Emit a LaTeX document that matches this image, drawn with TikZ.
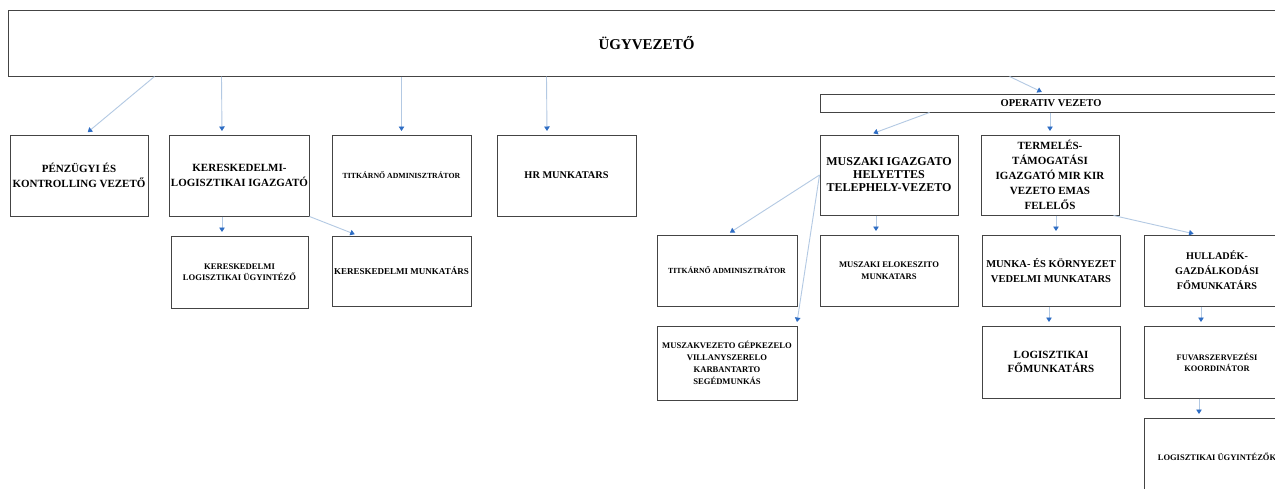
\documentclass[tikz,border=0pt]{standalone}
\usepackage{fontspec}
\setmainfont{Liberation Serif}
\usetikzlibrary{arrows.meta}
\definecolor{lineblue}{HTML}{B3C9E3}
\definecolor{tipblue}{HTML}{2E6DC4}
\definecolor{boxline}{HTML}{444444}
\newcommand{\fsz}[2]{\fontsize{#1}{#2}\selectfont}
\tikzset{
  orgbox/.style={draw=boxline, line width=1pt, fill=white, inner sep=1pt, align=center},
  conn/.style={draw=lineblue, line width=0.9pt,
    -{Triangle[width=5.5pt,length=4.5pt,color=tipblue]}, shorten >=3.5pt},
}
\begin{document}
\begin{tikzpicture}[x=1pt,y=-1pt]
\useasboundingbox (0,0) rectangle (1275,488);
\clip (0,0) rectangle (1275,488);
\fill[white] (0,0) rectangle (1275,488);

% top
\node[orgbox, minimum width=1277pt, minimum height=66pt, font={\bfseries\fsz{15}{18}}] (top) at (646.5,43) {ÜGYVEZETŐ};
\node[orgbox, minimum width=462pt, minimum height=18pt, font={\bfseries\fsz{10.5}{12}}] (oper) at (1051,103) {OPERATIV VEZETO};

% row 1
\node[orgbox, minimum width=138pt, minimum height=81pt, font={\bfseries\fsz{11}{15}}] (penz) at (79,175.5) {PÉNZÜGYI ÉS\\KONTROLLING VEZETŐ};
\node[orgbox, minimum width=137pt, minimum height=81pt, font={\bfseries\fsz{11}{15}}] (kli) at (239.5,175.5) {KERESKEDELMI-\\LOGISZTIKAI IGAZGATÓ};
\node[orgbox, minimum width=139pt, minimum height=81pt, font={\bfseries\fsz{7.8}{10}}] (titk1) at (401.5,175.5) {TITKÁRNŐ ADMINISZTRÁTOR};
\node[orgbox, minimum width=139pt, minimum height=81pt, font={\bfseries\fsz{10.3}{12}}] (hr) at (566.5,175.5) {HR MUNKATARS};
\node[orgbox, minimum width=138pt, minimum height=80pt, font={\bfseries\fsz{12}{13}}] (musz) at (889,175) {MUSZAKI IGAZGATO\\HELYETTES\\TELEPHELY-VEZETO};
\node[orgbox, minimum width=138pt, minimum height=80pt, font={\bfseries\fsz{11}{15}}] (term) at (1050,175) {TERMELÉS-\\TÁMOGATÁSI\\IGAZGATÓ MIR KIR\\VEZETO EMAS\\FELELŐS};

% row 2
\node[orgbox, minimum width=137pt, minimum height=72pt, font={\bfseries\fsz{8.6}{11}}] (klu) at (239.5,272) {KERESKEDELMI\\LOGISZTIKAI ÜGYINTÉZŐ};
\node[orgbox, minimum width=139pt, minimum height=70pt, font={\bfseries\fsz{9}{11}}] (kmt) at (401.5,271) {KERESKEDELMI MUNKATÁRS};
\node[orgbox, minimum width=140pt, minimum height=71pt, font={\bfseries\fsz{7.8}{10}}] (titk2) at (727,270.5) {TITKÁRNŐ ADMINISZTRÁTOR};
\node[orgbox, minimum width=138pt, minimum height=71pt, font={\bfseries\fsz{8.6}{12.5}}] (mele) at (889,270.5) {MUSZAKI ELOKESZITO\\MUNKATARS};
\node[orgbox, minimum width=138pt, minimum height=71pt, font={\bfseries\fsz{10.5}{15}}] (munka) at (1051,270.5) {MUNKA- ÉS KÖRNYEZET\\VEDELMI MUNKATARS};
\node[orgbox, minimum width=146pt, minimum height=71pt, font={\bfseries\fsz{10.2}{15}}] (hull) at (1217,270.5) {HULLADÉK-\\GAZDÁLKODÁSI\\FŐMUNKATÁRS};

% row 3
\node[orgbox, minimum width=140pt, minimum height=74pt, font={\bfseries\fsz{8.6}{12}}] (mgep) at (727,363) {MUSZAKVEZETO GÉPKEZELO\\VILLANYSZERELO\\KARBANTARTO\\SEGÉDMUNKÁS};
\node[orgbox, minimum width=138pt, minimum height=72pt, font={\bfseries\fsz{11}{14}}] (logf) at (1051,362) {LOGISZTIKAI\\FŐMUNKATÁRS};
\node[orgbox, minimum width=146pt, minimum height=72pt, font={\bfseries\fsz{8.4}{11}}] (fuvar) at (1217,362) {FUVARSZERVEZÉSI\\KOORDINÁTOR};

% row 4
\node[orgbox, minimum width=146pt, minimum height=77pt, font={\bfseries\fsz{8.5}{11}}] (logu) at (1217,456.5) {LOGISZTIKAI ÜGYINTÉZŐK};

% connectors
\draw[conn] ([xshift=147pt]top.south west) -- ([xshift=6pt]penz.north);
\draw[conn] ([xshift=214pt]top.south west) -- ([xshift=-17.5pt]kli.north);
\draw[conn] (top.south -| titk1.north) -- (titk1.north);
\draw[conn] ([xshift=539pt]top.south west) -- ([xshift=-19.5pt]hr.north);
\draw[conn] ([xshift=1002pt]top.south west) -- ([xshift=-6pt]oper.north);
\draw[conn] ([xshift=110pt]oper.south west) -- ([xshift=-19pt]musz.north);
\draw[conn] (oper.south -| term.north) -- (term.north);
\draw[conn] ([xshift=-17.5pt]kli.south) -- ([xshift=-17.5pt]klu.north);
\draw[conn] (kli.south east) -- ([xshift=-43.5pt]kmt.north);
\draw[conn] (musz.west) -- (titk2.north);
\draw[conn] (musz.west) -- ([xshift=-1pt]mgep.north east);
\draw[conn] ([xshift=-13pt]musz.south) -- ([xshift=-13pt]mele.north);
\draw[conn] ([xshift=6pt]term.south) -- ([xshift=5pt]munka.north);
\draw[conn] ([xshift=-6pt]term.south east) -- ([xshift=-20pt]hull.north);
\draw[conn] ([xshift=-2pt]munka.south) -- ([xshift=-2pt]logf.north);
\draw[conn] ([xshift=-16pt]hull.south) -- ([xshift=-16pt]fuvar.north);
\draw[conn] ([xshift=-18pt]fuvar.south) -- ([xshift=-18pt]logu.north);
\end{tikzpicture}
\end{document}
